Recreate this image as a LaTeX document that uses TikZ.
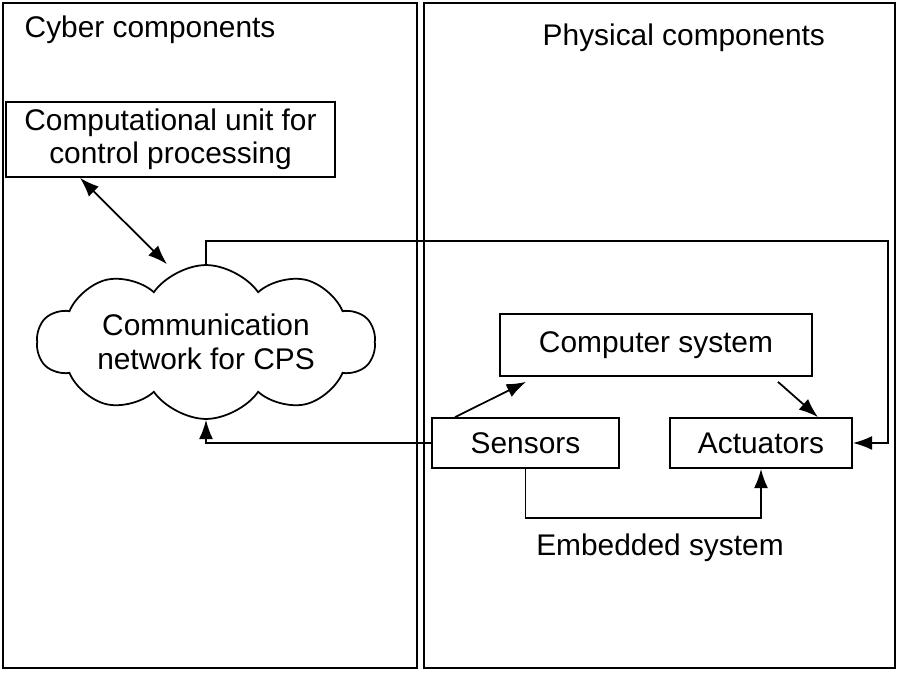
\documentclass[tikz,border=0pt]{standalone}
\usepackage{fontspec}
\setmainfont{Liberation Sans}
\usetikzlibrary{shapes.symbols, arrows.meta}
\begin{document}
\begin{tikzpicture}[
        x=0.02cm, y=-0.02cm,
        >={Latex[length=11pt,width=8pt]},
        font=\fontsize{17}{19}\selectfont,
        line width=1pt,
        panel/.style = {line width=1.2pt},
        unit/.style = {draw, rectangle, align=center, inner sep=2pt},
        netcloud/.style = {draw, cloud, cloud puffs=10, cloud puff arc=110,
            aspect=2.8, align=center, inner sep=0pt}
    ]
        \useasboundingbox (0,0) rectangle (900,673);

        % the two sides
        \draw[panel] (3,3) rectangle (417,668);
        \draw[panel] (424,3) rectangle (895,668);
        \node[anchor=west] (cybertitle) at (18,30) {Cyber components};
        \node[anchor=west] (phystitle) at (536,38) {Physical components};

        % cyber side
        \node[unit, minimum width=6.58cm, minimum height=1.5cm] (compunit) at (170.5,139.5)
            {Computational unit for\\control processing};
        \node[netcloud, minimum width=6.76cm, minimum height=2.6cm] (network) at (206,342)
            {Communication\\network for CPS};

        % physical side
        \node[unit, minimum width=6.24cm, minimum height=1.24cm] (computer) at (656,345) {Computer system};
        \node[unit, minimum width=3.74cm, minimum height=1cm] (sensors) at (525.5,443) {Sensors};
        \node[unit, minimum width=3.64cm, minimum height=1cm] (actuators) at (761,443) {Actuators};
        \node (embedded) at (660,548) {Embedded system};

        % connectors
        \coordinate (loopR) at (888,241);
        \draw[<->] ([xshift=-1.81cm]compunit.south) -- ([xshift=-0.78cm]network.north);
        \draw[->] (network.north) |- (loopR) |- (actuators.east);
        \draw[->] (sensors.west) -| (network.south);
        \draw[->] ([xshift=-1.41cm]sensors.north) -- ([xshift=-2.6cm,yshift=-0.1cm]computer.south);
        \draw[->] ([xshift=2.44cm,yshift=-0.1cm]computer.south) -- ([xshift=1.14cm]actuators.north);
        \draw[->] (sensors.south) -- ++(0,49) -| (actuators.south);
    \end{tikzpicture}
\end{document}
